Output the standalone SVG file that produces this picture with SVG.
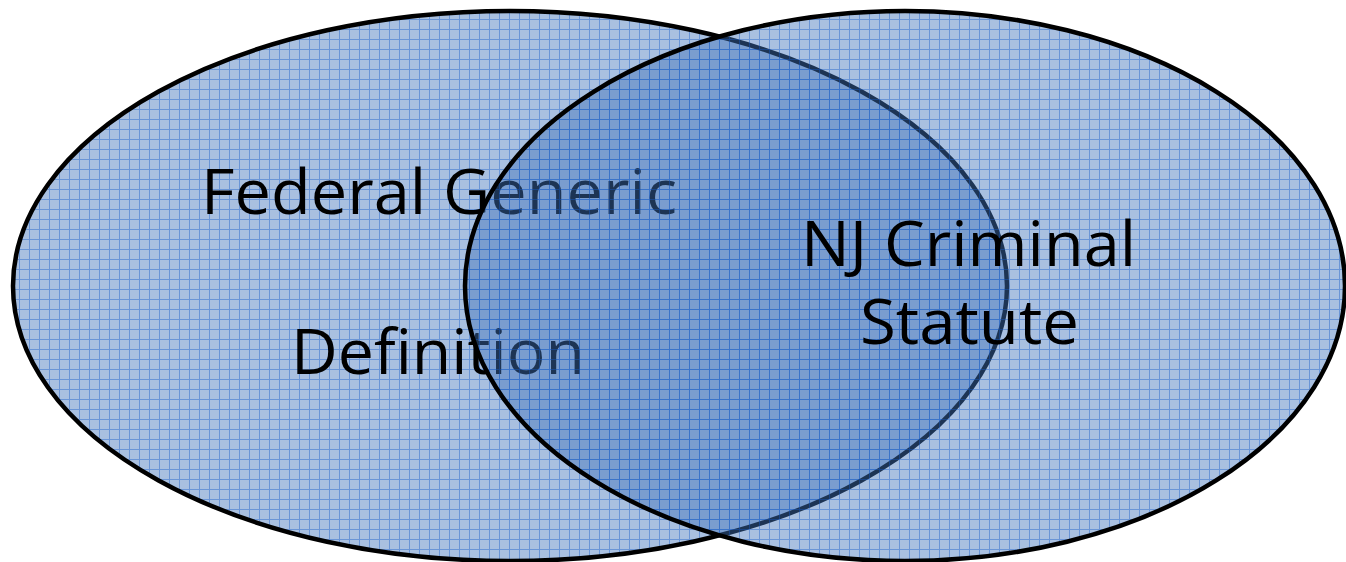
<svg xmlns="http://www.w3.org/2000/svg" width="1346" height="562" viewBox="0 0 1346 562">
  <defs>
    <pattern id="grid" patternUnits="userSpaceOnUse" x="0" y="0" width="10" height="10">
      <rect x="0" y="0" width="9" height="9" fill="#4073ba" fill-opacity="0.45"/>
      <rect x="9" y="0" width="1" height="10" fill="#2462c2" fill-opacity="0.68"/>
      <rect x="0" y="9" width="9" height="1" fill="#2462c2" fill-opacity="0.68"/>
    </pattern>
  </defs>
  <style>
    .set { fill: url(#grid); stroke: #000000; stroke-width: 4.5; }
    .label { font-family: "Open Sans", "Noto Sans", "Liberation Sans", sans-serif; font-size: 63px; fill: #000000; }
  </style>
  <rect width="1346" height="562" fill="#ffffff"/>
  <g id="federal-generic-definition">
    <ellipse class="set" cx="510" cy="286" rx="497" ry="275"/>
    <text class="label" x="201" y="214" textLength="476" lengthAdjust="spacingAndGlyphs">Federal Generic</text>
    <text class="label" x="291" y="374" textLength="294" lengthAdjust="spacingAndGlyphs">Definition</text>
  </g>
  <g id="nj-criminal-statute">
    <ellipse class="set" cx="905" cy="286" rx="440" ry="275"/>
    <text class="label" x="801" y="266" textLength="335" lengthAdjust="spacingAndGlyphs">NJ Criminal</text>
    <text class="label" x="860" y="344" textLength="219" lengthAdjust="spacingAndGlyphs">Statute</text>
  </g>
</svg>
